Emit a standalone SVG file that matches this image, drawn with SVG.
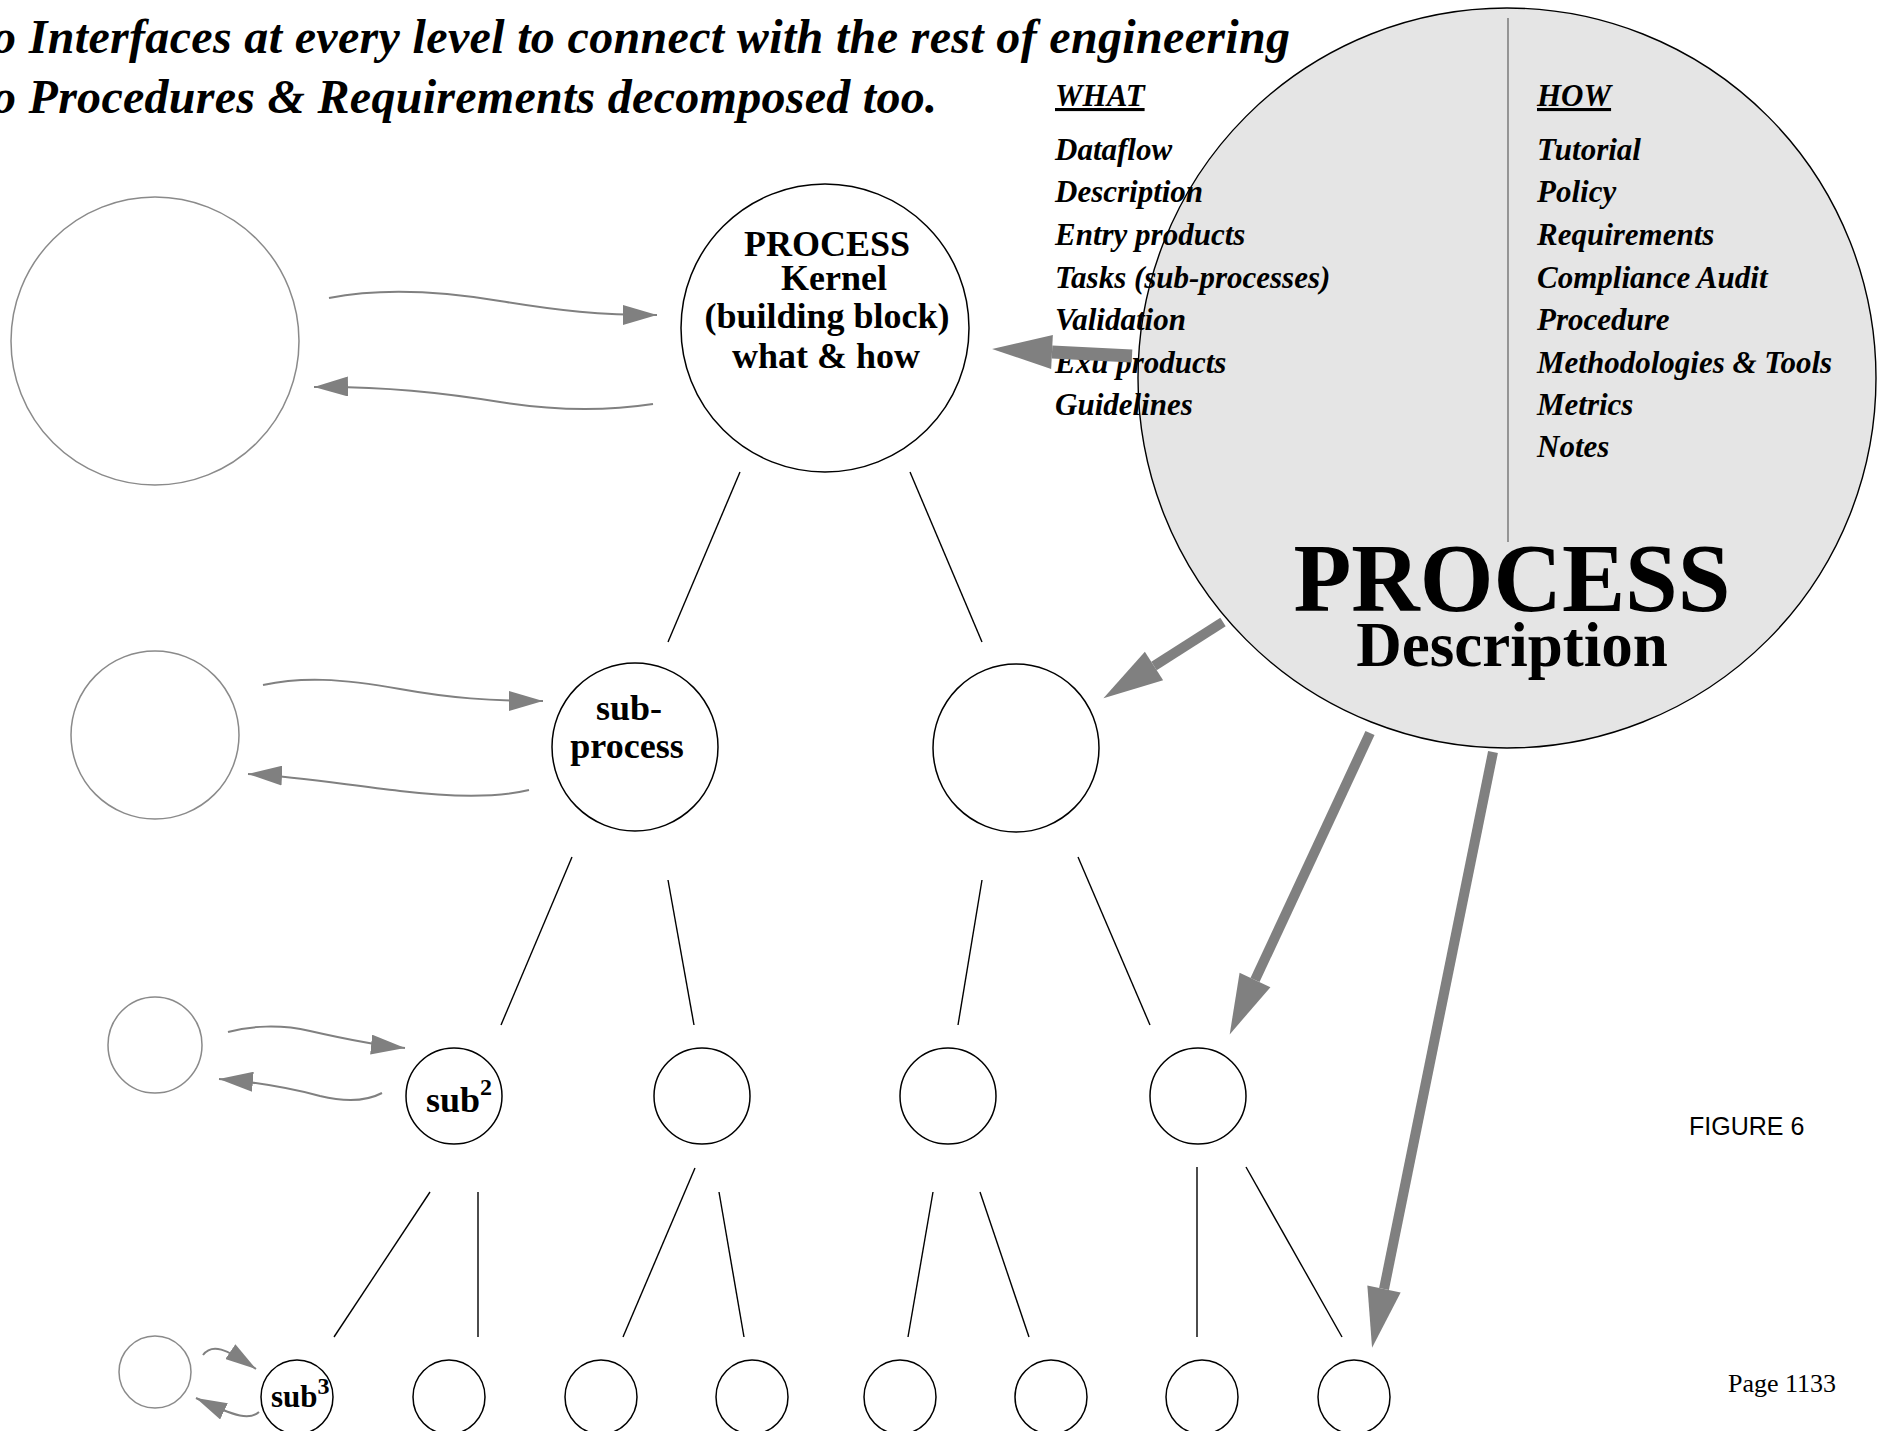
<svg xmlns="http://www.w3.org/2000/svg" width="1878" height="1431" viewBox="0 0 1878 1431">
<style>
.hdr{font-family:"Liberation Serif","Times New Roman",serif;font-weight:bold;font-style:italic;font-size:48px;fill:#000}
.lst{font-family:"Liberation Serif","Times New Roman",serif;font-weight:bold;font-style:italic;font-size:31px;fill:#000}
.bold{font-family:"Liberation Serif","Times New Roman",serif;font-weight:bold;fill:#000}
.node{fill:#fff;stroke:#000;stroke-width:1.5}
.gnode{fill:#fff;stroke:#8a8a8a;stroke-width:1.5}
.tree{stroke:#000;stroke-width:1.4;fill:none}
.thin{stroke:#808080;stroke-width:2;fill:none}
.fat{stroke:#808080;fill:none}
</style>
<defs>
<marker id="ah" markerUnits="userSpaceOnUse" viewBox="0 0 34 20" refX="34" refY="10" markerWidth="34" markerHeight="20" orient="auto">
<path d="M0,0 L34,10 L0,20 z" fill="#808080"/>
</marker>
<marker id="ahs" markerUnits="userSpaceOnUse" viewBox="0 0 31 18" refX="31" refY="9" markerWidth="31" markerHeight="18" orient="auto">
<path d="M0,0 L31,9 L0,18 z" fill="#808080"/>
</marker>
<marker id="big" markerUnits="userSpaceOnUse" viewBox="0 -17 60 34" refX="0" refY="0" markerWidth="60" markerHeight="34" orient="auto" overflow="visible">
<path d="M0,-17 L60,0 L0,17 z" fill="#808080"/>
</marker>
</defs>
<rect width="1878" height="1431" fill="#fff"/>

<g id="header">
<text class="hdr" x="-8" y="53" textLength="1298" lengthAdjust="spacing">o Interfaces at every level to connect with the rest of engineering</text>
<text class="hdr" x="-8" y="113" textLength="945" lengthAdjust="spacing">o Procedures &amp; Requirements decomposed too.</text>
</g>

<g id="process-description">
<ellipse cx="1507" cy="378" rx="369" ry="370" fill="#e5e5e5" stroke="#000" stroke-width="1.4"/>
<line x1="1508" y1="18" x2="1508" y2="542" stroke="#808080" stroke-width="1.6"/>
<text class="lst" x="1055" y="106" text-decoration="underline">WHAT</text>
<text class="lst" x="1055" y="160">Dataflow</text>
<text class="lst" x="1055" y="202">Description</text>
<text class="lst" x="1055" y="245">Entry products</text>
<text class="lst" x="1055" y="288">Tasks (sub-processes)</text>
<text class="lst" x="1055" y="330">Validation</text>
<text class="lst" x="1055" y="373">Exu products</text>
<text class="lst" x="1055" y="415">Guidelines</text>
<text class="lst" x="1537" y="106" text-decoration="underline">HOW</text>
<text class="lst" x="1537" y="160">Tutorial</text>
<text class="lst" x="1537" y="202">Policy</text>
<text class="lst" x="1537" y="245">Requirements</text>
<text class="lst" x="1537" y="288">Compliance Audit</text>
<text class="lst" x="1537" y="330">Procedure</text>
<text class="lst" x="1537" y="373">Methodologies &amp; Tools</text>
<text class="lst" x="1537" y="415">Metrics</text>
<text class="lst" x="1537" y="457">Notes</text>
<text class="bold" x="1512" y="611" font-size="98" text-anchor="middle" textLength="437" lengthAdjust="spacingAndGlyphs">PROCESS</text>
<text class="bold" x="1512" y="666" font-size="63" text-anchor="middle">Description</text>
</g>

<g id="kernel">
<circle class="node" cx="825" cy="328" r="144"/>
<text class="bold" font-size="36" text-anchor="middle" x="827" y="256">PROCESS</text>
<text class="bold" font-size="36" text-anchor="middle" x="834" y="290">Kernel</text>
<text class="bold" font-size="36" text-anchor="middle" x="827" y="328">(building block)</text>
<text class="bold" font-size="36" text-anchor="middle" x="826" y="368">what &amp; how</text>
</g>
<g id="ext1"><circle class="gnode" cx="155" cy="341" r="144"/></g>

<g id="subprocess">
<ellipse class="node" cx="635" cy="747" rx="83" ry="84"/>
<text class="bold" font-size="36" text-anchor="middle" x="629" y="720">sub-</text>
<text class="bold" font-size="36" text-anchor="middle" x="627" y="758">process</text>
</g>
<g id="sub1b"><ellipse class="node" cx="1016" cy="748" rx="83" ry="84"/></g>
<g id="ext2"><ellipse class="gnode" cx="155" cy="735" rx="84" ry="84"/></g>

<g id="sub2">
<ellipse class="node" cx="454" cy="1096" rx="48" ry="48"/>
<text class="bold" font-size="36" x="426" y="1112">sub<tspan font-size="24" dy="-17">2</tspan></text>
</g>
<g id="sub2b"><ellipse class="node" cx="702" cy="1096" rx="48" ry="48"/></g>
<g id="sub2c"><ellipse class="node" cx="948" cy="1096" rx="48" ry="48"/></g>
<g id="sub2d"><ellipse class="node" cx="1198" cy="1096" rx="48" ry="48"/></g>
<g id="ext3"><ellipse class="gnode" cx="155" cy="1045" rx="47" ry="48"/></g>

<g id="sub3">
<ellipse class="node" cx="297" cy="1397" rx="36" ry="37"/>
<text class="bold" font-size="31" x="271" y="1407">sub<tspan font-size="24" dy="-13">3</tspan></text>
</g>
<g id="sub3b"><ellipse class="node" cx="449" cy="1397" rx="36" ry="37"/></g>
<g id="sub3c"><ellipse class="node" cx="601" cy="1397" rx="36" ry="37"/></g>
<g id="sub3d"><ellipse class="node" cx="752" cy="1397" rx="36" ry="37"/></g>
<g id="sub3e"><ellipse class="node" cx="900" cy="1397" rx="36" ry="37"/></g>
<g id="sub3f"><ellipse class="node" cx="1051" cy="1397" rx="36" ry="37"/></g>
<g id="sub3g"><ellipse class="node" cx="1202" cy="1397" rx="36" ry="37"/></g>
<g id="sub3h"><ellipse class="node" cx="1354" cy="1397" rx="36" ry="37"/></g>
<g id="ext4"><ellipse class="gnode" cx="155" cy="1372" rx="36" ry="36"/></g>

<g id="connectors">
<line class="tree" x1="740" y1="472" x2="668" y2="642"/>
<line class="tree" x1="910" y1="472" x2="982" y2="642"/>
<line class="tree" x1="572" y1="857" x2="501" y2="1025"/>
<line class="tree" x1="668" y1="880" x2="694" y2="1025"/>
<line class="tree" x1="982" y1="880" x2="958" y2="1025"/>
<line class="tree" x1="1078" y1="857" x2="1150" y2="1025"/>
<line class="tree" x1="430" y1="1192" x2="334" y2="1337"/>
<line class="tree" x1="478" y1="1192" x2="478" y2="1337"/>
<line class="tree" x1="695" y1="1168" x2="623" y2="1337"/>
<line class="tree" x1="719" y1="1192" x2="744" y2="1337"/>
<line class="tree" x1="933" y1="1192" x2="908" y2="1337"/>
<line class="tree" x1="980" y1="1192" x2="1029" y2="1337"/>
<line class="tree" x1="1197" y1="1167" x2="1197" y2="1337"/>
<line class="tree" x1="1246" y1="1167" x2="1342" y2="1337"/>

<path class="thin" d="M329,298 C380,288 440,291 500,301 C560,311 600,315 657,315" marker-end="url(#ah)"/>
<path class="thin" d="M653,404 C600,412 550,410 500,402 C440,392 380,386 314,387" marker-end="url(#ah)"/>
<path class="thin" d="M263,685 C300,677 340,678 400,689 C450,698 490,701 543,701" marker-end="url(#ah)"/>
<path class="thin" d="M529,790 C500,797 460,798 400,791 C340,784 290,776 248,774" marker-end="url(#ah)"/>
<path class="thin" d="M228,1032 C250,1026 280,1024 310,1031 C345,1039 375,1045 405,1048" marker-end="url(#ah)"/>
<path class="thin" d="M382,1093 C365,1102 345,1102 320,1096 C290,1088 255,1082 219,1079" marker-end="url(#ah)"/>
<path class="thin" d="M203,1355 C212,1343 225,1348 256,1369" marker-end="url(#ahs)"/>
<path class="thin" d="M259,1412 C250,1420 238,1418 196,1398" marker-end="url(#ahs)"/>

<line class="fat" stroke-width="13" x1="1132" y1="356" x2="1052" y2="352" marker-end="url(#big)"/>
<line class="fat" stroke-width="10" x1="1223" y1="622" x2="1154" y2="666" marker-end="url(#big)"/>
<line class="fat" stroke-width="10" x1="1370" y1="733" x2="1255" y2="980" marker-end="url(#big)"/>
<line class="fat" stroke-width="10" x1="1493" y1="752" x2="1384" y2="1289" marker-end="url(#big)"/>
</g>

<g id="labels">
<text x="1689" y="1135" font-family="Liberation Sans, Arial, sans-serif" font-size="25" fill="#000">FIGURE 6</text>
<text x="1728" y="1392" font-family="Liberation Serif, Times New Roman, serif" font-size="26" fill="#000">Page 1133</text>
</g>
</svg>
